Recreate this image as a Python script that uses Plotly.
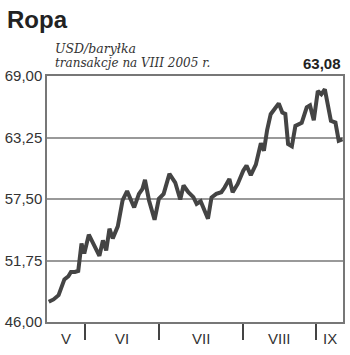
import plotly.graph_objects as go

# day index from the start of the plotted period (about mid-May 2005)
dni = [0.7, 2.6, 4.6, 5.9, 6.9, 8.5, 9.5, 11.1, 12.4, 13.7, 14.8, 16.6, 20.8, 22.2, 23.5,
       24.8, 26.1, 28.1, 30.0, 31.8, 34.6, 36.5, 37.9, 38.9, 40.5, 42.7, 44.4, 46.3, 48.6,
       50.9, 52.9, 54.2, 56.1, 58.1, 59.4, 61.0, 62.0, 63.9, 65.3, 67.2, 69.2, 70.5, 72.4,
       73.7, 75.7, 77.9, 79.2, 80.9, 82.9, 83.5, 84.9, 86.1, 87.4, 88.8, 90.1, 92.0, 93.4,
       94.6, 95.7, 97.2, 98.6, 101.1, 103.1, 104.4, 105.9, 107.5, 108.9, 110.3, 112.7,
       114.5, 115.8, 117.3]
cena = [47.89, 48.11, 48.51, 49.29, 49.98, 50.28, 50.68, 50.68, 50.78, 53.33, 52.40, 54.17,
        52.19, 53.63, 52.70, 54.72, 53.82, 54.94, 57.36, 58.24, 56.71, 57.98, 58.45, 59.29,
        57.36, 55.56, 57.52, 57.98, 59.85, 59.04, 57.45, 58.76, 58.13, 57.67, 57.05, 57.29,
        56.74, 55.66, 57.64, 57.98, 58.13, 58.57, 59.38, 58.13, 58.91, 60.15, 60.62, 59.73,
        60.71, 61.36, 62.71, 62.01, 63.97, 65.43, 65.90, 66.44, 65.58, 65.46, 62.64, 62.43,
        64.34, 64.62, 66.07, 66.25, 64.87, 67.60, 67.29, 67.76, 64.81, 64.65, 62.95, 63.08]

y_ticks = [46.00, 51.75, 57.50, 63.25, 69.00]
y_labels = ["46,00", "51,75", "57,50", "63,25", "69,00"]
month_bounds = [14.9, 44.6, 77.9, 106.9]
months = ["V", "VI", "VII", "VIII", "IX"]
x_max = 117.5
ostatnia = "63,08"

fig = go.Figure()
fig.add_trace(go.Scatter(x=dni, y=cena, mode="lines",
                         line=dict(color="#444444", width=4), hoverinfo="skip"))

fig.update_layout(
    width=350, height=355,
    margin=dict(l=45, r=5, t=76, b=33),
    paper_bgcolor="white", plot_bgcolor="white",
    showlegend=False,
    font=dict(family="Liberation Sans, Arial, sans-serif", color="#333333"),
)
fig.update_xaxes(range=[0, x_max], tickvals=month_bounds, ticktext=[""] * 4,
                 ticks="outside", ticklen=16, tickcolor="#444444", tickwidth=1.5,
                 showgrid=False, zeroline=False,
                 showline=True, linecolor="#777777", linewidth=1.5, mirror=True)
fig.update_yaxes(range=[46, 69], tickvals=y_ticks, ticktext=y_labels,
                 tickfont=dict(size=15, color="#333333"), ticks="",
                 showgrid=True, gridcolor="#999999", gridwidth=1.5, zeroline=False,
                 showline=True, linecolor="#777777", linewidth=1.5, mirror=True)

# month labels centred between boundaries
edges = [0] + month_bounds + [x_max]
for i, m in enumerate(months):
    fig.add_annotation(x=(edges[i] + edges[i + 1]) / 2, y=0, xref="x", yref="paper",
                       yshift=-16, text=m, showarrow=False,
                       font=dict(size=15, color="#333333"),
                       xanchor="center", yanchor="middle")

H = 246.0
def py(p):
    return (322 - p) / H

fig.add_annotation(x=-43 / 300, y=py(19), xref="paper", yref="paper", text="<b>Ropa</b>",
                   showarrow=False, xanchor="left", yanchor="middle",
                   font=dict(size=24, color="#222222", family="Liberation Sans, Arial, sans-serif"))
fig.add_annotation(x=6 / 300, y=py(48), xref="paper", yref="paper", text="<i>USD/baryłka</i>",
                   showarrow=False, xanchor="left", yanchor="middle",
                   font=dict(size=12.5, color="#333333", family="DejaVu Serif, serif"))
fig.add_annotation(x=6 / 300, y=py(63), xref="paper", yref="paper",
                   text="<i>transakcje na VIII 2005 r.</i>",
                   showarrow=False, xanchor="left", yanchor="middle",
                   font=dict(size=12, color="#333333", family="DejaVu Serif, serif"))
fig.add_annotation(x=1, y=py(64), xref="paper", yref="paper", text="<b>" + ostatnia + "</b>",
                   showarrow=False, xanchor="right", yanchor="middle",
                   font=dict(size=15, color="#222222"))

fig.write_html("out.html")
